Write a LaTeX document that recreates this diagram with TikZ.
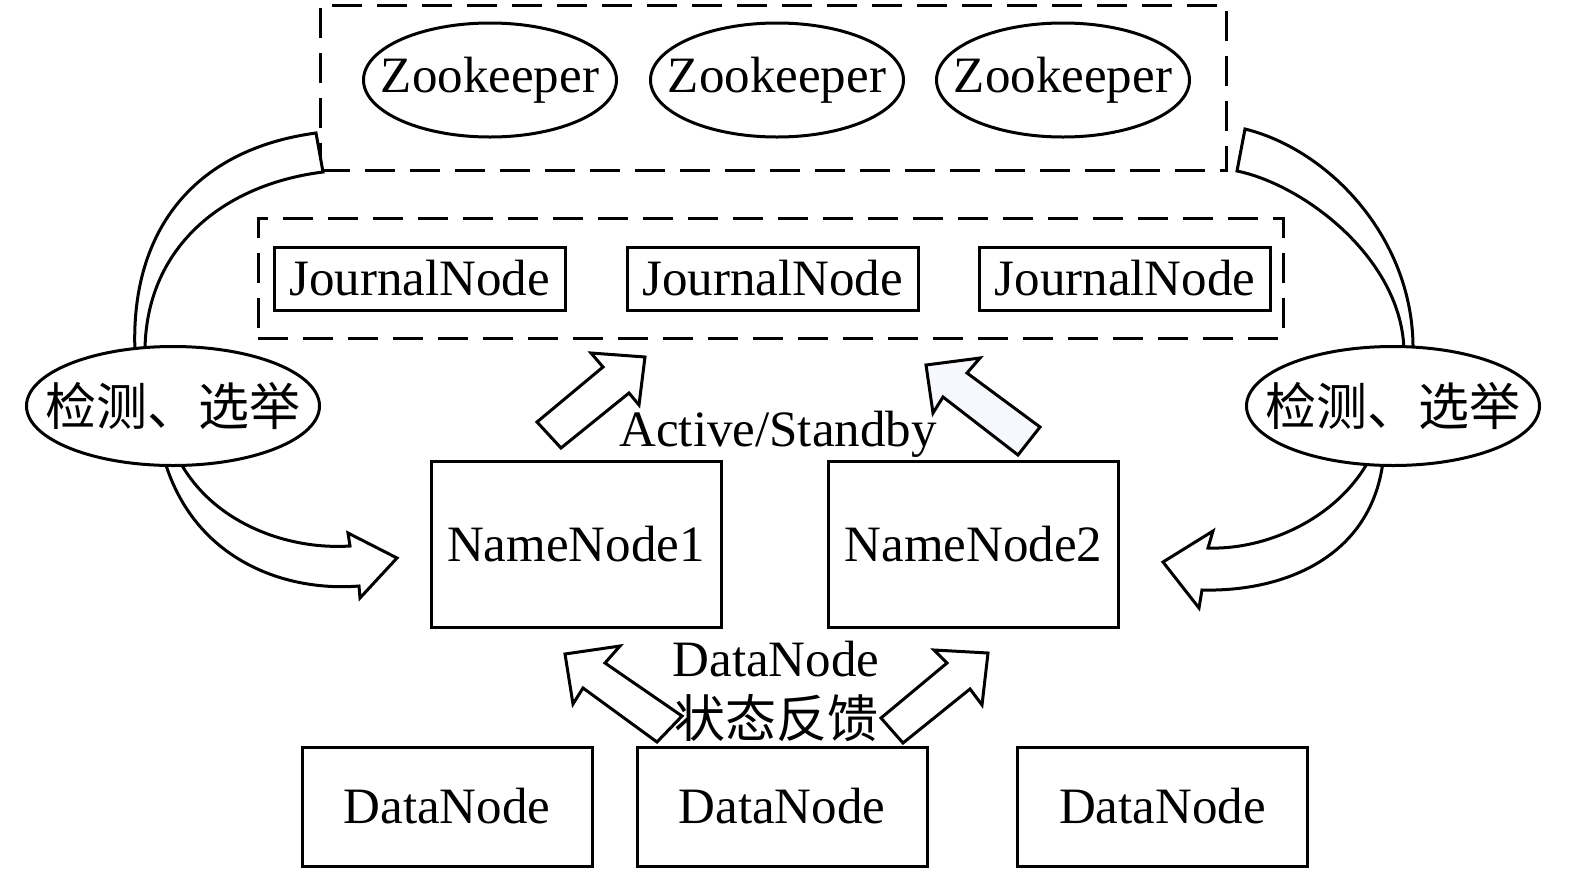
\documentclass[tikz,border=0pt]{standalone}
\usepackage{fontspec}
\setmainfont{Liberation Serif}
\newfontfamily\cjk{Noto Sans CJK SC}
\usetikzlibrary{shapes.geometric}
\begin{document}
\begin{tikzpicture}[x=1pt,y=-1pt,
  lw/.style={line width=3pt},
  big/.style={font=\fontsize{51}{60}\selectfont},
  dashbox/.style={draw, lw, dash pattern=on 30pt off 15pt, inner sep=0pt},
  zk/.style={ellipse, draw, lw, fill=white, minimum width=253pt, minimum height=114pt, inner sep=0pt, big},
  elect/.style={ellipse, draw, lw, fill=white, minimum width=293pt, minimum height=119pt, inner sep=0pt, font=\cjk\fontsize{51}{60}\selectfont},
  jn/.style={draw, lw, minimum width=291pt, minimum height=63pt, inner sep=0pt, big},
  nn/.style={draw, lw, minimum width=290pt, minimum height=166pt, inner sep=0pt, big},
  dn/.style={draw, lw, minimum width=290pt, minimum height=119pt, inner sep=0pt, big},
  blockarrow/.style={draw, lw, fill=white, line join=miter},
]
\useasboundingbox (0,0) rectangle (1575,876);

% dashed groups
\node[dashbox, minimum width=906pt, minimum height=165pt] (zkbox) at (773,87.5) {};
\node[dashbox, minimum width=1025pt, minimum height=120pt] (jnbox) at (770.5,278) {};

% curved bands / arrows
\draw[blockarrow] (316,133) .. controls (190,150) and (130,235) .. (135,352)
  -- (145,352) .. controls (145,250) and (220,185) .. (323,172) -- cycle;
\draw[blockarrow] (1245,129) .. controls (1330,150) and (1415,240) .. (1413,352)
  -- (1404,352) .. controls (1403,260) and (1305,185) .. (1237,171) -- cycle;
\draw[blockarrow] (180,462) .. controls (215,525) and (290,550) .. (350,546)
  -- (348,533) -- (397,558) -- (360,598) -- (359,586)
  .. controls (285,592) and (195,560) .. (165,462) -- cycle;
\draw[blockarrow] (1368,462) .. controls (1335,520) and (1265,550) .. (1208,548)
  -- (1213,531) -- (1163,562) -- (1199,608) -- (1202,590)
  .. controls (1280,592) and (1370,560) .. (1383,462) -- cycle;

% zookeepers
\node[zk] (zk1) at (490,80) {\makebox[0pt]{Zookeeper}};
\node[zk] (zk2) at (777,80) {\makebox[0pt]{Zookeeper}};
\node[zk] (zk3) at (1063,80) {\makebox[0pt]{Zookeeper}};

% journal nodes
\node[jn] (jn1) at (419.5,278.5) {JournalNode};
\node[jn] (jn2) at (772.5,278.5) {JournalNode};
\node[jn] (jn3) at (1125,278.5) {JournalNode};

% election ellipses
\node[elect] (el1) at (173,406) {\makebox[0pt]{检测、选举}};
\node[elect] (el2) at (1393,406) {\makebox[0pt]{检测、选举}};

% name nodes
\node[nn] (nn1) at (576,544) {NameNode1};
\node[nn] (nn2) at (973.5,544) {NameNode2};

% data nodes
\node[dn] (dn1) at (447,806.5) {DataNode};
\node[dn] (dn2) at (782,806.5) {DataNode};
\node[dn] (dn3) at (1162.5,806.5) {DataNode};

% straight block arrows
\draw[blockarrow] (537,422) -- (603,367) -- (591,353) -- (645,357) -- (639,405) -- (629,393) -- (561,448) -- cycle;
\draw[blockarrow, fill={rgb,255:red,247;green,248;blue,253}] (926,365) -- (980,358) -- (967,373) -- (1040,427) -- (1018,455) -- (943,397) -- (933,413) -- cycle;
\draw[blockarrow] (565,654) -- (620,646) -- (605,663) -- (682,716) -- (657,742) -- (583,688) -- (573,704) -- cycle;
\draw[blockarrow] (988,653) -- (934,650) -- (947,663) -- (881,718) -- (903,743) -- (970,689) -- (982,705) -- cycle;

% labels
\node[big, anchor=base, inner sep=0pt] (as) at (778,446) {Active/Standby};
\node[big, anchor=base, inner sep=0pt] (dnl) at (776,676) {DataNode};
\node[font=\cjk\fontsize{51}{60}\selectfont, inner sep=0pt] (fb) at (776,718) {状态反馈};
\end{tikzpicture}
\end{document}
